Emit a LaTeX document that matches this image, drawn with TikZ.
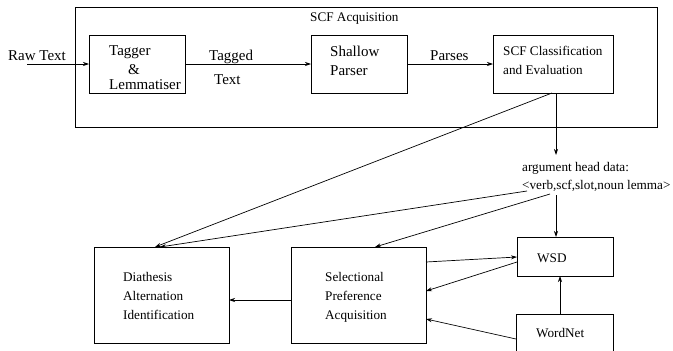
\documentclass[tikz,border=0pt]{standalone}
\usepackage{fontspec}
\setmainfont{Liberation Serif}
\usetikzlibrary{arrows.meta}
\begin{document}
\begin{tikzpicture}[x=1pt,y=-1pt,
  box/.style={draw, line width=0.7pt, rectangle, inner sep=0pt, outer sep=0pt},
  big/.style={inner sep=0pt, anchor=base west, font=\fontsize{15}{18}\selectfont},
  small/.style={inner sep=0pt, anchor=base west, font=\fontsize{13.2}{16}\selectfont},
  conn/.style={line width=0.7pt, -{Stealth[length=6pt,width=4pt]}},
  plain/.style={line width=0.7pt}]
\useasboundingbox (0,0) rectangle (673,351);
\clip (0,0) rectangle (673,351);
% boxes
\node[box, minimum width=582pt, minimum height=120pt] (outer) at (366,67) {};
\node[box, minimum width=96pt, minimum height=58pt] (tagger) at (137,64) {};
\node[box, minimum width=96pt, minimum height=58pt] (shallow) at (359,64) {};
\node[box, minimum width=120pt, minimum height=58pt] (scf) at (553,64) {};
\node[box, minimum width=96pt, minimum height=39pt] (wsd) at (565,256.5) {};
\node[box, minimum width=97pt, minimum height=51pt] (wordnet) at (564.5,339.5) {};
\node[box, minimum width=135pt, minimum height=96pt] (selpref) at (358.5,295) {};
\node[box, minimum width=135pt, minimum height=96pt] (diath) at (161.5,295) {};
% texts
\node[small] (acq) at (310,21) {SCF Acquisition};
\node[big] (raw) at (8,60) {Raw Text};
\node[big] (t1) at (109,55) {Tagger};
\node[big] (t2) at (128,74) {\&};
\node[big] (t3) at (109,89) {Lemmatiser};
\node[big] (tg1) at (209,60) {Tagged};
\node[big] (tg2) at (214,84) {Text};
\node[big] (s1) at (330,56) {Shallow};
\node[big] (s2) at (330,75) {Parser};
\node[big] (ps) at (430,60) {Parses};
\node[small] (c1) at (503,55) {SCF Classification};
\node[small] (c2) at (503,74) {and Evaluation};
\node[small] (a1) at (522,171) {argument head data:};
\node[small] (a2) at (522,189) {<verb,scf,slot,noun lemma>};
\node[small] (w) at (537,262) {WSD};
\node[small] (wn) at (536,337) {WordNet};
\node[small] (d1) at (123,281) {Diathesis};
\node[small] (d2) at (123,300) {Alternation};
\node[small] (d3) at (123,319) {Identification};
\node[small] (p1) at (325,281) {Selectional};
\node[small] (p2) at (325,300) {Preference};
\node[small] (p3) at (325,319) {Acquisition};
% coordinates for connector ends
\coordinate (rawstart) at (27,64);
\coordinate (argtop) at (556,155);
\coordinate (argA) at (527,191);
\coordinate (argB) at (550,194);
\coordinate (argC) at (556,195);
% connectors
\draw[conn] (rawstart) -- (tagger.west);
\draw[conn] (tagger.east) -- (shallow.west);
\draw[conn] (shallow.east) -- (scf.west);
\draw[conn] (scf.south -| argtop) -- (argtop);
\draw[conn] (scf.south -| 552,0) -- (diath.north -| 155,0);
\draw[conn] (argA) -- (diath.north -| 160,0);
\draw[conn] (argB) -- (selpref.north -| 375,0);
\draw[conn] (argC) -- (wsd.north -| argC);
\draw[conn] (selpref.east |- 0,262) -- (wsd.west |- 0,257);
\draw[conn] (wsd.west |- 0,262) -- (selpref.east |- 0,291);
\draw[conn] (wordnet.north -| 560,0) -- (wsd.south -| 560,0);
\draw[conn] (wordnet.west |- 0,339) -- (selpref.east |- 0,319);
\draw[conn] (selpref.west |- 0,300) -- (diath.east |- 0,300);
\end{tikzpicture}
\end{document}
